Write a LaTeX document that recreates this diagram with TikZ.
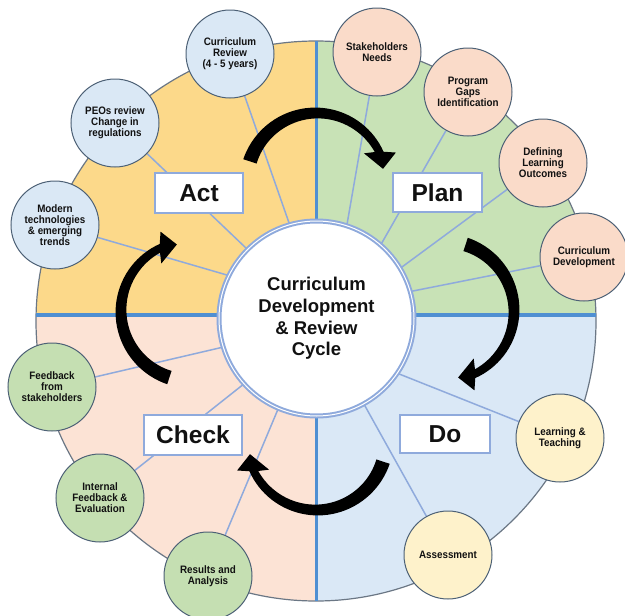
\documentclass[tikz,border=0pt]{standalone}
\usepackage{fontspec}
\setmainfont{Liberation Sans}
\newfontfamily\satfont[FakeStretch=0.91]{Liberation Sans}
\pgfdeclarelayer{background}
\pgfsetlayers{background,main}
\definecolor{actfill}{HTML}{FCD98A}
\definecolor{planfill}{HTML}{C8E2B6}
\definecolor{dofill}{HTML}{DAE8F6}
\definecolor{checkfill}{HTML}{FCE3D5}
\definecolor{satact}{HTML}{DAE8F5}
\definecolor{satplan}{HTML}{FADBC9}
\definecolor{satdo}{HTML}{FEF2CB}
\definecolor{satcheck}{HTML}{C5DFB2}
\definecolor{satborder}{HTML}{4D6176}
\definecolor{rimcol}{HTML}{6B7785}
\definecolor{divcol}{HTML}{4F8FD2}
\definecolor{spokecol}{HTML}{8FAADC}
\definecolor{ringcol}{HTML}{8FAADC}
\definecolor{boxcol}{HTML}{8FAADC}
\definecolor{inkcol}{HTML}{111111}
\tikzset{
  sat/.style={circle, draw=satborder, line width=1pt, minimum size=88pt, inner sep=0pt,
    align=center, text=inkcol, font=\satfont\fontsize{10.8}{11}\selectfont\bfseries},
  stagebox/.style={rectangle, fill=white, draw=boxcol, line width=1.4pt, inner sep=0pt,
    text=inkcol, font=\fontsize{24.5}{28}\selectfont\bfseries},
  core/.style={circle, fill=white, draw=ringcol, line width=2pt, double=white,
    double distance=1pt, minimum size=195pt, inner sep=0pt, align=center, text=inkcol,
    font=\fontsize{18.5}{21.7}\selectfont\bfseries},
  spoke/.style={draw=spokecol, line width=1.5pt},
  divider/.style={draw=divcol, line width=3.5pt},
  rim/.style={draw=rimcol, line width=1.2pt},
}
\newcommand\cyclearrow[3]{%
  \begin{scope}[shift={(#1,#2)}, rotate=#3, yscale=-1]
    \fill[black] plot[domain=162:25, samples=40] (\x:{74+3*(\x-25)/137})
      -- (21:85) -- (12:68) -- (32:56)
      -- plot[domain=28:162, samples=40] (\x:{66-3*(\x-28)/134}) -- cycle;
  \end{scope}}
\begin{document}
\begin{tikzpicture}[x=1pt,y=-1pt]
\useasboundingbox (0,0) rectangle (625,616);
% centre
\node[core] (core) at (316.5,318.5) {Curriculum\\Development\\\& Review\\Cycle};
% Act satellites
\node[sat, fill=satact] (s1) at (230,54) {Curriculum\\Review\\(4 - 5 years)};
\node[sat, fill=satact] (s2) at (115,123) {PEOs review\\Change in\\regulations};
\node[sat, fill=satact] (s3) at (55,225) {Modern\\technologies\\\& emerging\\trends};
% Plan satellites
\node[sat, fill=satplan] (p1) at (377,52) {Stakeholders\\Needs};
\node[sat, fill=satplan] (p2) at (468,92) {Program\\Gaps\\Identification};
\node[sat, fill=satplan] (p3) at (543,163) {Defining\\Learning\\Outcomes};
\node[sat, fill=satplan] (p4) at (584,257) {Curriculum\\Development};
% Do satellites
\node[sat, fill=satdo] (d1) at (560,438) {Learning \&\\Teaching};
\node[sat, fill=satdo] (d2) at (448,555) {Assessment};
% Check satellites
\node[sat, fill=satcheck] (c1) at (52,387) {Feedback\\from\\stakeholders};
\node[sat, fill=satcheck] (c2) at (100,498) {Internal\\Feedback \&\\Evaluation};
\node[sat, fill=satcheck] (c3) at (208,576) {Results and\\Analysis};
% stage boxes
\node[stagebox, minimum width=88pt, minimum height=40pt] (act) at (199,193) {Act};
\node[stagebox, minimum width=89pt, minimum height=39pt] (plan) at (437.5,192.5) {Plan};
\node[stagebox, minimum width=98pt, minimum height=40pt] (check) at (193,435) {Check};
\node[stagebox, minimum width=90pt, minimum height=38pt] (do) at (445,434) {Do};
\begin{pgfonlayer}{background}
  \begin{scope}\clip (0,0) rectangle (316.5,315); \fill[actfill] (316,321) circle[radius=280]; \end{scope}
  \begin{scope}\clip (316.5,0) rectangle (625,315); \fill[planfill] (316,321) circle[radius=280]; \end{scope}
  \begin{scope}\clip (316.5,315) rectangle (625,616); \fill[dofill] (316,321) circle[radius=280]; \end{scope}
  \begin{scope}\clip (0,315) rectangle (316.5,616); \fill[checkfill] (316,321) circle[radius=280]; \end{scope}
  \draw[rim] (316,321) circle[radius=280];
  \draw[divider] (316.5,41) -- (316.5,601);
  \draw[divider] (36.1,315) -- (595.9,315);
  \draw[spoke] (core.106.8) -- (s1);
  \draw[spoke] (core.135.8) -- (s2);
  \draw[spoke] (core.154.7) -- (s3);
  \draw[spoke] (core.72) -- (p1);
  \draw[spoke] (core.49.4) -- (p2);
  \draw[spoke] (core.31.8) -- (p3);
  \draw[spoke] (core.16) -- (p4);
  \draw[spoke] (core.-34) -- (d1);
  \draw[spoke] (core.-61) -- (d2);
  \draw[spoke] (core.197.6) -- (c1);
  \draw[spoke] (core.222) -- (c2);
  \draw[spoke] (core.247) -- (c3);
\end{pgfonlayer}
% cycle arrows
\cyclearrow{316.5}{183}{0}
\cyclearrow{444}{311}{-90}
\cyclearrow{316.5}{440}{-180}
\cyclearrow{191}{311}{90}
\end{tikzpicture}
\end{document}
